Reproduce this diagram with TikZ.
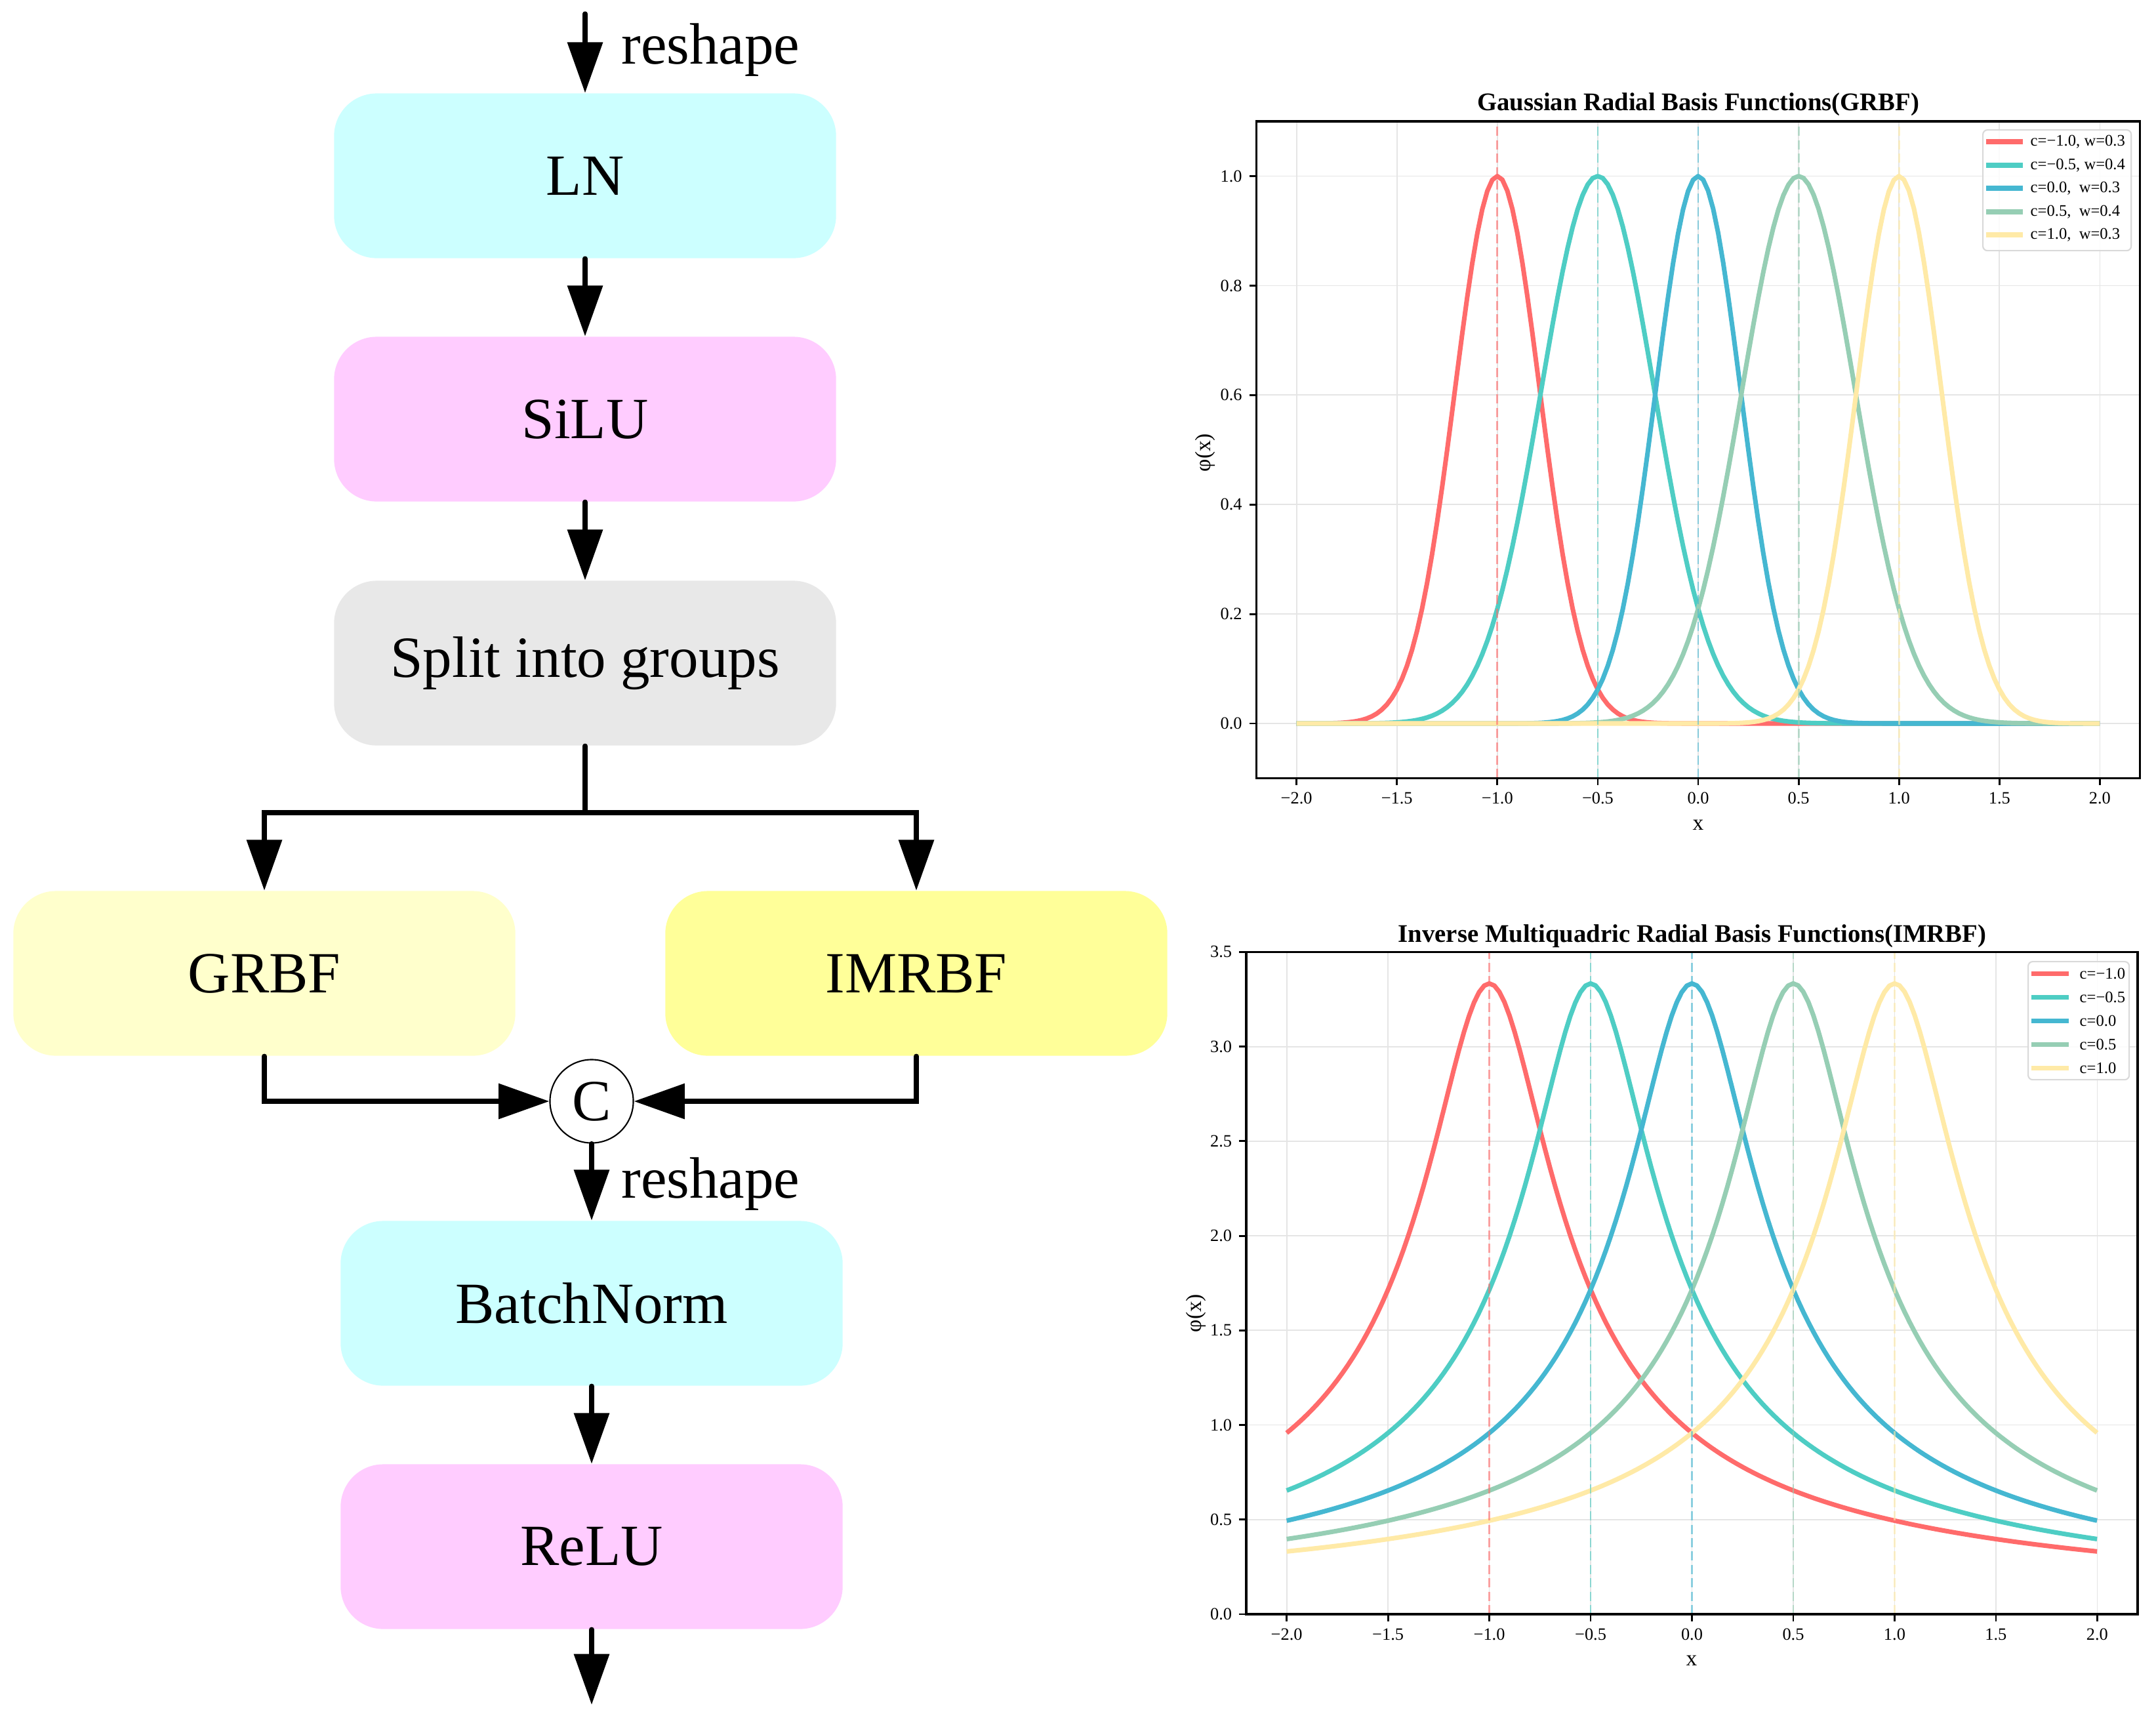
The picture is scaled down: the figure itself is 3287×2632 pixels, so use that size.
\documentclass[tikz,border=0pt]{standalone}
\usepackage{fontspec}
\setmainfont{Liberation Serif}
\usetikzlibrary{arrows.meta}
\definecolor{boxcyan}{HTML}{CCFFFF}
\definecolor{boxpink}{HTML}{FFCCFF}
\definecolor{boxgrey}{HTML}{E8E8E8}
\definecolor{boxlyel}{HTML}{FFFFCC}
\definecolor{boxyel}{HTML}{FFFF99}
\definecolor{cred}{HTML}{FF6B6B}
\definecolor{cteal}{HTML}{4ECDC4}
\definecolor{cblue}{HTML}{45B7D1}
\definecolor{csage}{HTML}{96CEB4}
\definecolor{cyel}{HTML}{FFEAA7}
\tikzset{
  block/.style={rounded corners=0.65cm, minimum width=7.65cm, minimum height=2.51cm,
    inner sep=0pt, font=\fontsize{25.3}{30}\selectfont},
  flowarr/.style={line width=2.1pt, line cap=round, -{Triangle[length=22pt,width=15pt]}},
  flowline/.style={line width=2.1pt, line cap=round},
  lbl/.style={font=\fontsize{25.3}{30}\selectfont, inner sep=0pt},
  frame/.style={line width=1pt},
  gridl/.style={line width=0.5pt, gray!20},
  tickm/.style={line width=0.8pt},
  ticklbl/.style={font=\fontsize{7.5}{9}\selectfont, inner sep=0pt},
  axlbl/.style={font=\fontsize{9.5}{11}\selectfont, inner sep=0pt},
  ttl/.style={font=\fontsize{11}{13}\selectfont\bfseries, inner sep=0pt},
  curve/.style={line width=2pt, line join=round},
  vline/.style={line width=0.8pt, opacity=0.6, dash pattern=on 4pt off 1.8pt},
  leglbl/.style={font=\fontsize{7}{8}\selectfont, inner sep=0pt, anchor=west},
  legbox/.style={fill=white, fill opacity=0.85, draw=gray!30, line width=0.6pt, rounded corners=2pt},
}
\begin{document}
\begin{tikzpicture}[x=0.01cm, y=-0.01cm]
\useasboundingbox (0,0) rectangle (3287,2632);
\fill[white] (0,0) rectangle (3287,2632);

% ---------------- flowchart ----------------
\node[block, fill=boxcyan] (ln) at (892,268) {LN};
\node[block, fill=boxpink] (silu) at (892,639) {SiLU};
\node[block, fill=boxgrey] (split) at (892,1011) {Split into groups};
\node[block, fill=boxlyel] (grbf) at (403,1484) {GRBF};
\node[block, fill=boxyel] (imrbf) at (1397,1484) {IMRBF};
\node[circle, draw, line width=0.6pt, minimum size=1.27cm, inner sep=0pt,
      font=\fontsize{25.3}{30}\selectfont] (cat) at (902,1679) {C};
\node[block, fill=boxcyan] (bn) at (902,1987) {BatchNorm};
\node[block, fill=boxpink] (relu) at (902,2358) {ReLU};

\coordinate (in) at (892,21);
\coordinate (sp) at (892,1239);
\coordinate (out) at (902,2599);
\node[lbl, anchor=base west] (rs1) at (947,97) {reshape};
\node[lbl, anchor=base west] (rs2) at (947,1826) {reshape};

\draw[flowarr] (in) -- (ln.north);
\draw[flowarr] (ln.south) -- (silu.north);
\draw[flowarr] (silu.south) -- (split.north);
\draw[flowline] (split.south) -- (sp);
\draw[flowarr] (sp) -| (grbf.north);
\draw[flowarr] (sp) -| (imrbf.north);
\draw[flowarr] (grbf.south) |- (cat.west);
\draw[flowarr] (imrbf.south) |- (cat.east);
\draw[flowarr] (cat.south) -- (bn.north);
\draw[flowarr] (bn.south) -- (relu.north);
\draw[flowarr] (relu.south) -- (out);

% ---------------- top plot: GRBF ----------------
\node[ttl, anchor=base] (t1) at (2589,168) {Gaussian Radial Basis Functions(GRBF)};
\begin{scope}[shift={(2589,1103)}, x=3.06cm, y=8.34cm]
  \foreach \v in {-2,-1.5,...,2.01} \draw[gridl] (\v,-0.1) -- (\v,1.1);
  \foreach \v in {0,0.2,...,1.01} \draw[gridl] (-2.2,\v) -- (2.2,\v);
  \draw[curve, cred]  plot[domain=-2:2, samples=161] (\x,{exp(-((\x+1)/0.3)^2)});
  \draw[curve, cteal] plot[domain=-2:2, samples=161] (\x,{exp(-((\x+0.5)/0.4)^2)});
  \draw[curve, cblue] plot[domain=-2:2, samples=161] (\x,{exp(-((\x)/0.3)^2)});
  \draw[curve, csage] plot[domain=-2:2, samples=161] (\x,{exp(-((\x-0.5)/0.4)^2)});
  \draw[curve, cyel]  plot[domain=-2:2, samples=161] (\x,{exp(-((\x-1)/0.3)^2)});
  \draw[vline, cred]  (-1,-0.1) -- (-1,1.1);
  \draw[vline, cteal] (-0.5,-0.1) -- (-0.5,1.1);
  \draw[vline, cblue] (0,-0.1) -- (0,1.1);
  \draw[vline, csage] (0.5,-0.1) -- (0.5,1.1);
  \draw[vline, cyel]  (1,-0.1) -- (1,1.1);
  \draw[frame] (-2.2,-0.1) rectangle (2.2,1.1);
  \foreach \v/\t [count=\i] in {-2/−2.0,-1.5/−1.5,-1/−1.0,-0.5/−0.5,0/0.0,0.5/0.5,1/1.0,1.5/1.5,2/2.0} {
    \draw[tickm] (\v,-0.1) -- ++(0,-3.1pt);
    \node[ticklbl, anchor=north] (ax\i) at ([yshift=-6pt]\v,-0.1) {\t};
  }
  \foreach \v/\t [count=\i] in {0/0.0,0.2/0.2,0.4/0.4,0.6/0.6,0.8/0.8,1/1.0} {
    \draw[tickm] (-2.2,\v) -- ++(-3.1pt,0);
    \node[ticklbl, anchor=east] (ay\i) at ([xshift=-6pt]-2.2,\v) {\t};
  }
\end{scope}
\node[axlbl] (xl1) at (2589,1258) {x};
\node[axlbl, rotate=90] (yl1) at (1837,690) {φ(x)};
\node[legbox, minimum width=2.26cm, minimum height=1.84cm, anchor=north west] (leg1) at (3022,197) {};
\foreach \c/\y/\t [count=\i] in {cred/216/{c=−1.0, w=0.3}, cteal/252/{c=−0.5, w=0.4}, cblue/287/{c=0.0,~~w=0.3}, csage/323/{c=0.5,~~w=0.4}, cyel/358/{c=1.0,~~w=0.3}} {
  \draw[curve, \c] (3028,\y) -- (3084,\y);
  \node[leglbl] (lg1\i) at (3095,\y) {\t};
}

% ---------------- bottom plot: IMRBF ----------------
\node[ttl, anchor=base] (t2) at (2580,1436) {Inverse Multiquadric Radial Basis Functions(IMRBF)};
\begin{scope}[shift={(2579.5,2461)}, x=3.0875cm, y=2.883cm]
  \foreach \v in {-2,-1.5,...,2.01} \draw[gridl] (\v,0) -- (\v,3.5);
  \foreach \v in {0,0.5,...,3.51} \draw[gridl] (-2.2,\v) -- (2.2,\v);
  \draw[curve, cred]  plot[domain=-2:2, samples=161] (\x,{1/sqrt((\x+1)^2+0.09)});
  \draw[curve, cteal] plot[domain=-2:2, samples=161] (\x,{1/sqrt((\x+0.5)^2+0.09)});
  \draw[curve, cblue] plot[domain=-2:2, samples=161] (\x,{1/sqrt((\x)^2+0.09)});
  \draw[curve, csage] plot[domain=-2:2, samples=161] (\x,{1/sqrt((\x-0.5)^2+0.09)});
  \draw[curve, cyel]  plot[domain=-2:2, samples=161] (\x,{1/sqrt((\x-1)^2+0.09)});
  \draw[vline, cred]  (-1,0) -- (-1,3.5);
  \draw[vline, cteal] (-0.5,0) -- (-0.5,3.5);
  \draw[vline, cblue] (0,0) -- (0,3.5);
  \draw[vline, csage] (0.5,0) -- (0.5,3.5);
  \draw[vline, cyel]  (1,0) -- (1,3.5);
  \draw[frame] (-2.2,0) rectangle (2.2,3.5);
  \foreach \v/\t [count=\i] in {-2/−2.0,-1.5/−1.5,-1/−1.0,-0.5/−0.5,0/0.0,0.5/0.5,1/1.0,1.5/1.5,2/2.0} {
    \draw[tickm] (\v,0) -- ++(0,-3.1pt);
    \node[ticklbl, anchor=north] (bx\i) at ([yshift=-6pt]\v,0) {\t};
  }
  \foreach \v/\t [count=\i] in {0/0.0,0.5/0.5,1/1.0,1.5/1.5,2/2.0,2.5/2.5,3/3.0,3.5/3.5} {
    \draw[tickm] (-2.2,\v) -- ++(-3.1pt,0);
    \node[ticklbl, anchor=east] (by\i) at ([xshift=-6pt]-2.2,\v) {\t};
  }
\end{scope}
\node[axlbl] (xl2) at (2579,2532) {x};
\node[axlbl, rotate=90] (yl2) at (1823,2002) {φ(x)};
\node[legbox, minimum width=1.54cm, minimum height=1.8cm, anchor=north west] (leg2) at (3091,1465) {};
\foreach \c/\y/\t [count=\i] in {cred/1484/{c=−1.0}, cteal/1520/{c=−0.5}, cblue/1556/{c=0.0}, csage/1592/{c=0.5}, cyel/1628/{c=1.0}} {
  \draw[curve, \c] (3097,\y) -- (3154,\y);
  \node[leglbl] (lg2\i) at (3170,\y) {\t};
}
\end{tikzpicture}
\end{document}
